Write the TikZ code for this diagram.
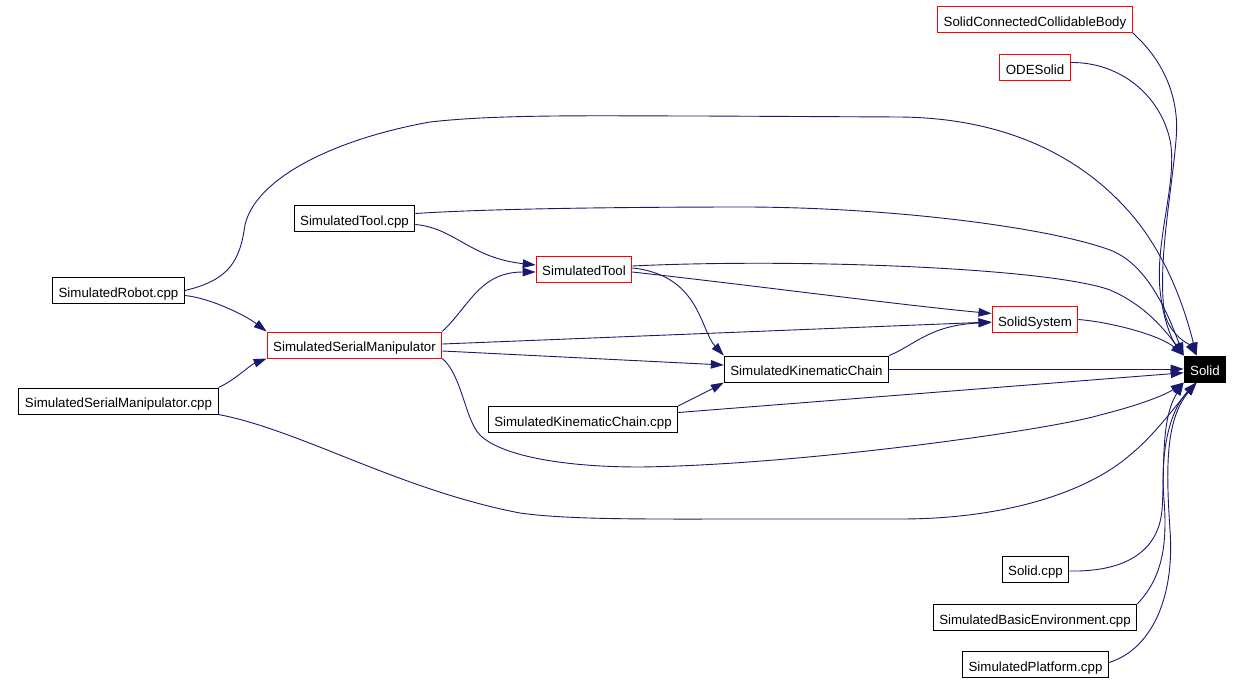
\documentclass[tikz,border=0pt]{standalone}
\usepackage{fontspec}
\setmainfont{Liberation Sans}
\usetikzlibrary{arrows.meta}
\definecolor{edgeblue}{RGB}{25,25,112}
\begin{document}
\begin{tikzpicture}[x=1pt,y=-1pt,
  font=\fontsize{13.3pt}{16pt}\selectfont,
  cls/.style={draw=black,line width=1pt,fill=white,inner xsep=6pt,inner ysep=0pt,
    text height=13pt,text depth=0pt,minimum height=26pt},
  clsred/.style={cls,draw=red},
  clsroot/.style={cls,fill=black,text=white},
  dep/.style={draw=edgeblue,line width=0.9pt,-{Triangle[length=13pt,width=8.5pt]}}]
  \useasboundingbox (0,0) rectangle (1242,683);
  % classes and source files
  \node[clsred] (scb) at (1035,19.5) {SolidConnectedCollidableBody};
  \node[clsred] (ode) at (1035,67.5) {ODESolid};
  \node[cls] (toolcpp) at (354.5,218.5) {SimulatedTool.cpp};
  \node[cls] (robotcpp) at (118.5,290.5) {SimulatedRobot.cpp};
  \node[clsred] (tool) at (584,269) {SimulatedTool};
  \node[clsred] (solsys) at (1035,319.5) {SolidSystem};
  \node[clsred] (ssm) at (354.5,345) {SimulatedSerialManipulator};
  \node[cls] (skc) at (806.5,369) {SimulatedKinematicChain};
  \node[clsroot] (solid) at (1205,369) {Solid};
  \node[cls] (ssmcpp) at (118.5,401) {SimulatedSerialManipulator.cpp};
  \node[cls] (skccpp) at (583,419.5) {SimulatedKinematicChain.cpp};
  \node[cls] (solidcpp) at (1035.5,569) {Solid.cpp};
  \node[cls] (basiccpp) at (1035,617.5) {SimulatedBasicEnvironment.cpp};
  \node[cls] (platcpp) at (1035.5,664.5) {SimulatedPlatform.cpp};
  % edges into Solid from above
  \draw[dep] (scb.south east) .. controls (1165,62) and (1180,100) .. (1176,140)
    .. controls (1172,190) and (1158,260) .. (1164,310)
    .. controls (1168,335) and (1190,345) .. (solid.122);
  \draw[dep] ([yshift=5pt]ode.east) .. controls (1120,62) and (1160,95) .. (1170,140)
    .. controls (1178,180) and (1155,240) .. (1160,290)
    .. controls (1163,320) and (1172,340) .. (solid.north west);
  \draw[dep] (robotcpp.east) .. controls (230,280) and (240,260) .. (245,225)
    .. controls (255,180) and (330,140) .. (430,122)
    .. controls (500,114) and (600,116) .. (700,116) -- (900,117)
    .. controls (1010,118) and (1090,160) .. (1140,225)
    .. controls (1170,265) and (1185,310) .. (solid.122);
  \draw[dep] ([yshift=5pt]toolcpp.east) .. controls (500,208) and (650,207) .. (750,207)
    .. controls (900,208) and (1050,228) .. (1110,250)
    .. controls (1150,265) and (1170,320) .. (solid.north west);
  \draw[dep] ([yshift=3pt]tool.east) .. controls (800,258) and (1050,268) .. (1110,290)
    .. controls (1145,305) and (1165,330) .. (solid.north west);
  \draw[dep] (solsys.east) .. controls (1110,322) and (1160,335) .. (solid.north west);
  % edges between the classes
  \draw[dep] ([yshift=-5pt]robotcpp.east) .. controls (210,298) and (245,315) .. (ssm.north west);
  \draw[dep] ([yshift=-6pt]toolcpp.east) .. controls (455,228) and (470,258) .. ([yshift=4pt]tool.west);
  \draw[dep] (ssm.north east) .. controls (470,305) and (480,272) .. ([yshift=-3pt]tool.west);
  \draw[dep] ([yshift=-3pt]tool.east) .. controls (750,285) and (900,305) .. ([yshift=6pt]solsys.west);
  \draw[dep] ([yshift=1pt]tool.east) .. controls (700,275) and (700,330) .. (skc.north west);
  \draw[dep] ([yshift=1pt]ssm.east) -- ([yshift=-2.5pt]solsys.west);
  \draw[dep] ([yshift=-6pt]ssm.east) -- ([yshift=4pt]skc.west);
  \draw[dep] (ssmcpp.north east) .. controls (235,380) and (250,365) .. (ssm.south west);
  \draw[dep] (skc.north east) .. controls (915,345) and (930,325) .. ([yshift=-3pt]solsys.west);
  \draw[dep] (skccpp.north east) .. controls (690,400) and (710,390) .. (skc.south west);
  % edges into Solid from the side and below
  \draw[dep] (skc.east) -- (solid.west);
  \draw[dep] ([yshift=7pt]skccpp.east) -- (solid.190);
  \draw[dep] (ssm.south east) .. controls (462,375) and (465,420) .. (480,435)
    .. controls (500,455) and (560,467) .. (640,467)
    .. controls (800,465) and (1050,430) .. (1100,415)
    .. controls (1140,405) and (1165,395) .. (solid.south west);
  \draw[dep] (ssmcpp.south east) .. controls (300,430) and (400,490) .. (520,513)
    .. controls (570,520) and (650,519) .. (750,519) -- (900,519)
    .. controls (1010,519) and (1090,490) .. (1130,455)
    .. controls (1155,435) and (1180,400) .. (solid.238);
  \draw[dep] ([yshift=-2pt]solidcpp.east) .. controls (1120,572) and (1158,555) .. (1162,510)
    .. controls (1165,470) and (1160,420) .. (solid.south west);
  \draw[dep] (basiccpp.north east) .. controls (1160,580) and (1168,550) .. (1164,500)
    .. controls (1160,450) and (1170,410) .. (solid.238);
  \draw[dep] ([yshift=2pt]platcpp.east) .. controls (1150,650) and (1175,600) .. (1170,530)
    .. controls (1166,470) and (1165,420) .. (solid.238);
\end{tikzpicture}
\end{document}
